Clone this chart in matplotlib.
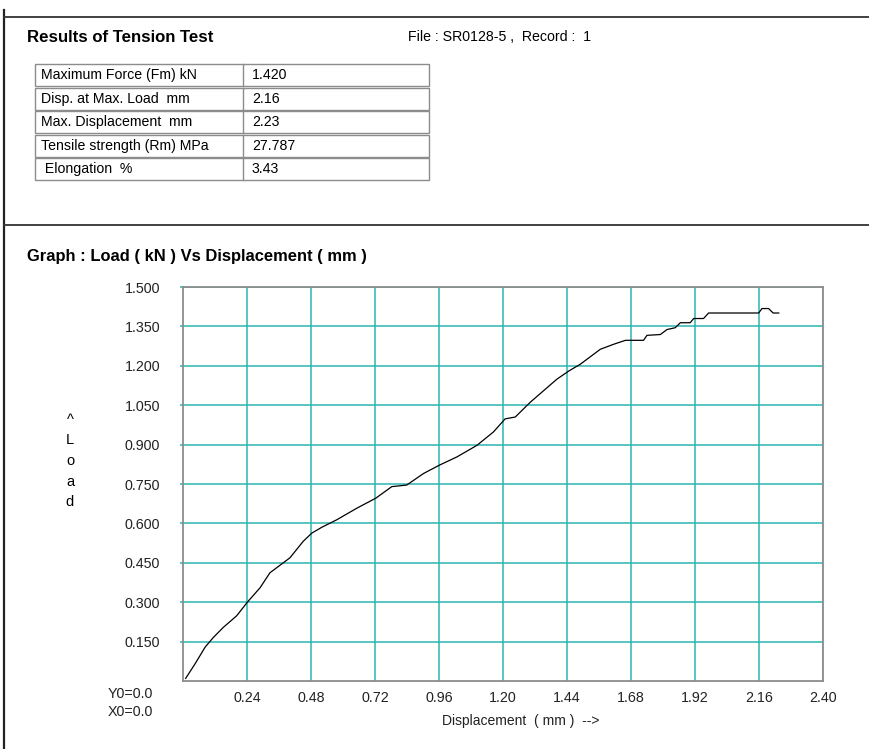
import numpy as np
import matplotlib
matplotlib.use('Agg')
import matplotlib.pyplot as plt
from matplotlib.patches import Rectangle
from matplotlib.lines import Line2D

plt.rcParams['font.family'] = ['Liberation Sans', 'DejaVu Sans']

# ------------------------------------------------------------
# data
# ------------------------------------------------------------
result_names  = ['Maximum Force (Fm) kN', 'Disp. at Max. Load  mm', 'Max. Displacement  mm',
                 'Tensile strength (Rm) MPa', ' Elongation  %']
result_values = ['1.420', '2.16', '2.23', '27.787', '3.43']

disp = [0.01, 0.045, 0.083, 0.114, 0.151, 0.201, 0.243, 0.289, 0.326, 0.401,
        0.451, 0.483, 0.520, 0.577, 0.652, 0.723, 0.783, 0.839, 0.902, 0.962,
        1.027, 1.102, 1.164, 1.208, 1.246, 1.302, 1.352, 1.402, 1.448, 1.490,
        1.540, 1.565, 1.615, 1.659, 1.727, 1.740, 1.790, 1.815, 1.846, 1.865,
        1.902, 1.915, 1.952, 1.971, 2.159, 2.171, 2.196, 2.213, 2.234]
load = [0.010, 0.065, 0.129, 0.166, 0.204, 0.248, 0.302, 0.355, 0.412, 0.469,
        0.532, 0.563, 0.585, 0.614, 0.658, 0.696, 0.740, 0.746, 0.790, 0.822,
        0.853, 0.897, 0.948, 0.998, 1.005, 1.061, 1.105, 1.149, 1.181, 1.206,
        1.244, 1.263, 1.282, 1.297, 1.297, 1.316, 1.319, 1.338, 1.345, 1.364,
        1.364, 1.380, 1.380, 1.401, 1.401, 1.418, 1.418, 1.401, 1.401]

x_ticks = [0.24, 0.48, 0.72, 0.96, 1.20, 1.44, 1.68, 1.92, 2.16, 2.40]
y_ticks = [0.150, 0.300, 0.450, 0.600, 0.750, 0.900, 1.050, 1.200, 1.350, 1.500]

W, H = 869, 749
GRID = '#2ab5b0'
BOX = '#8c8c8c'
INK = '#222222'

fig = plt.figure(figsize=(W / 100, H / 100), dpi=100)

# page layer in pixel coordinates
pg = fig.add_axes([0, 0, 1, 1])
pg.set_xlim(0, W); pg.set_ylim(H, 0); pg.axis('off')

pg.add_line(Line2D([4, 4], [10, H], color=INK, lw=1.6))
pg.add_line(Line2D([4, W], [17, 17], color='#333333', lw=1.3))
pg.add_line(Line2D([4, W], [225, 225], color='#333333', lw=1.3))

pg.text(27, 38, 'Results of Tension Test', fontsize=12.1, fontweight='bold', va='center')
pg.text(408, 37, 'File : SR0128-5 ,  Record :  1', fontsize=10.2, va='center')

# results table
row_top = [64, 88, 111, 135, 158]
row_h = 21.5
for top, name, val in zip(row_top, result_names, result_values):
    pg.add_patch(Rectangle((35, top), 394, row_h, fill=False, ec=BOX, lw=1.0))
    pg.add_line(Line2D([243, 243], [top, top + row_h], color=BOX, lw=1.0))
    pg.text(41, top + row_h / 2 + 0.5, name, fontsize=10.2, va='center')
    pg.text(252, top + row_h / 2 + 0.5, val, fontsize=10.2, va='center')

pg.text(27, 257, 'Graph : Load ( kN ) Vs Displacement ( mm )', fontsize=11.9, fontweight='bold', va='center')

for i, ch in enumerate(['^', 'L', 'o', 'a', 'd']):
    pg.text(70, 420 + i * 20.5, ch, fontsize=10.5, ha='center', va='center')

pg.text(108, 694, 'Y0=0.0', fontsize=10.3, va='center', color=INK)
pg.text(108, 712, 'X0=0.0', fontsize=10.3, va='center', color=INK)

# ------------------------------------------------------------
# load vs displacement graph
# ------------------------------------------------------------
ax = fig.add_axes([183 / W, 1 - 681 / H, 640 / W, 394 / H])
ax.plot(disp, load, color='black', lw=0.9, zorder=3)
ax.set_xlim(0, 2.40)
ax.set_ylim(0, 1.50)
ax.set_xticks(x_ticks)
ax.set_xticklabels([f'{v:.2f}' for v in x_ticks])
ax.set_yticks(y_ticks)
ax.set_yticklabels([f'{v:.3f}' for v in y_ticks])
ax.grid(True, color=GRID, lw=1.1)
ax.set_axisbelow(True)
for s in ax.spines.values():
    s.set_color(BOX); s.set_linewidth(1.3); s.set_zorder(4)
ax.tick_params(axis='x', length=0, pad=7, labelsize=10.3, labelcolor=INK)
ax.tick_params(axis='y', length=2.5, color=GRID, width=1.1, pad=14, labelsize=10.3, labelcolor=INK)
ax.set_xlabel('Displacement  ( mm )  -->', fontsize=10, labelpad=8, color=INK)
ax.xaxis.set_label_coords(0.528, -0.085)

fig.savefig('out.png', dpi=100)
